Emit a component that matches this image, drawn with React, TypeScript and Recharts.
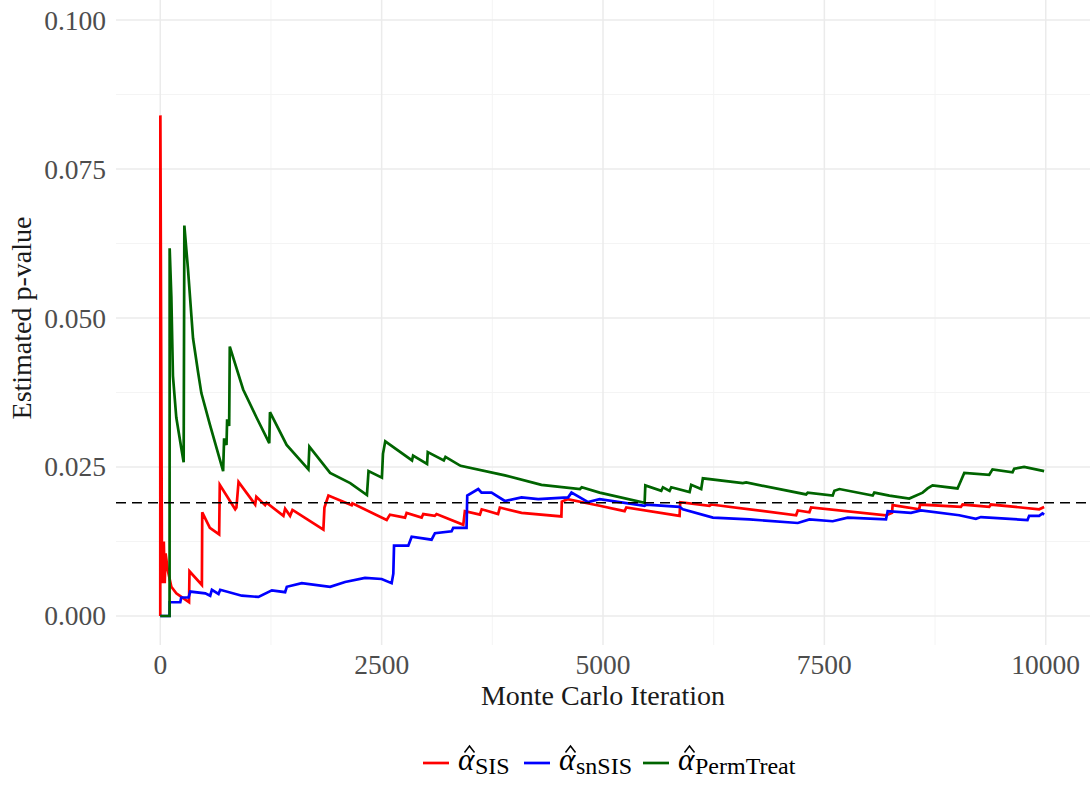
import { LineChart, Line, XAxis, YAxis, CartesianGrid, ReferenceLine } from "recharts";

// running p-value estimates (steps encoded as two points at ~same iteration)
const sisIter = [0, 1, 18, 30, 40, 50, 60, 87, 125, 181, 238, 325, 330, 470, 474, 560, 665, 672, 846, 860, 884, 1072, 1085, 1184, 1200, 1391, 1410, 1466, 1493, 1842, 1854, 1899, 2162, 2170, 2557, 2594, 2764, 2782, 2952, 2970, 3100, 3120, 3422, 3440, 3610, 3630, 3815, 3835, 4080, 4530, 4535, 4600, 4962, 5244, 5263, 5865, 5872, 6203, 6222, 7181, 7200, 7331, 7350, 8196, 8264, 8271, 8572, 8580, 9042, 9061, 9362, 9380, 9926, 9982];
const sisValue = [0, 0.084, 0.012, 0.0055, 0.0125, 0.0055, 0.0105, 0.0075, 0.0049, 0.0038, 0.0032, 0.0023, 0.0075, 0.0052, 0.0174, 0.0148, 0.0137, 0.022, 0.0179, 0.0182, 0.0225, 0.0187, 0.02, 0.0186, 0.019, 0.0168, 0.018, 0.0168, 0.0178, 0.0145, 0.0182, 0.0202, 0.0186, 0.0189, 0.0161, 0.017, 0.0165, 0.0173, 0.0165, 0.0171, 0.0168, 0.0171, 0.0153, 0.0176, 0.017, 0.0179, 0.0171, 0.0182, 0.0173, 0.0167, 0.0192, 0.0196, 0.0185, 0.0176, 0.0182, 0.0168, 0.0191, 0.0185, 0.0187, 0.0169, 0.0177, 0.0174, 0.0182, 0.0169, 0.0173, 0.0186, 0.0179, 0.0187, 0.0183, 0.0187, 0.0183, 0.0187, 0.0179, 0.0183];

const snIter = [0, 105, 106, 226, 237, 320, 338, 508, 564, 583, 658, 677, 921, 1109, 1260, 1410, 1429, 1598, 1918, 2087, 2312, 2500, 2613, 2632, 2640, 2801, 2839, 3064, 3102, 3290, 3309, 3459, 3467, 3591, 3628, 3741, 3892, 4080, 4268, 4606, 4644, 4832, 4962, 5470, 5489, 5865, 5902, 6241, 6654, 7200, 7331, 7594, 7764, 8196, 8215, 8478, 8591, 9023, 9211, 9268, 9794, 9813, 9926, 9963, 9982];
const snValue = [0, 0, 0.0023, 0.0023, 0.0031, 0.0031, 0.0041, 0.0038, 0.0034, 0.0044, 0.0037, 0.0044, 0.0034, 0.0032, 0.0043, 0.004, 0.0049, 0.0055, 0.0049, 0.0057, 0.0064, 0.0062, 0.0055, 0.0071, 0.0118, 0.0118, 0.0133, 0.0128, 0.0139, 0.0142, 0.0148, 0.0148, 0.0202, 0.0213, 0.0207, 0.0207, 0.0193, 0.0199, 0.0196, 0.0199, 0.0207, 0.0191, 0.0196, 0.0185, 0.0187, 0.0183, 0.0179, 0.0165, 0.0162, 0.0156, 0.0162, 0.0159, 0.0165, 0.0162, 0.0176, 0.0173, 0.0177, 0.0169, 0.0163, 0.0166, 0.0161, 0.0168, 0.0168, 0.0172, 0.017];

const permIter = [0, 105, 106, 125, 143, 181, 238, 264, 272, 313, 370, 427, 464, 559, 710, 721, 748, 755, 778, 785, 936, 1087, 1231, 1239, 1427, 1673, 1684, 1918, 2145, 2334, 2352, 2503, 2515, 2541, 2843, 2855, 3013, 3021, 3202, 3221, 3391, 3892, 4305, 4740, 4760, 4962, 5470, 5478, 5658, 5677, 5752, 5771, 5978, 5996, 6109, 6128, 6579, 6617, 7294, 7312, 7594, 7613, 7670, 8046, 8064, 8234, 8459, 8610, 8666, 8722, 9004, 9042, 9080, 9362, 9399, 9625, 9644, 9756, 9982];
const permValue = [0, 0, 0.0617, 0.0536, 0.0403, 0.0333, 0.0281, 0.0258, 0.0655, 0.0582, 0.0466, 0.0409, 0.0374, 0.0322, 0.0243, 0.0298, 0.0287, 0.033, 0.0319, 0.0452, 0.038, 0.0333, 0.029, 0.0342, 0.0287, 0.0246, 0.0284, 0.024, 0.0223, 0.0203, 0.0243, 0.0232, 0.0272, 0.0293, 0.0261, 0.0269, 0.0255, 0.0275, 0.0261, 0.0267, 0.0252, 0.0236, 0.022, 0.0213, 0.0216, 0.0207, 0.019, 0.0219, 0.021, 0.0216, 0.021, 0.0216, 0.0208, 0.022, 0.0213, 0.0231, 0.0223, 0.0224, 0.0204, 0.0207, 0.0202, 0.021, 0.0213, 0.0202, 0.0207, 0.0202, 0.0197, 0.0207, 0.0214, 0.0219, 0.0214, 0.0227, 0.024, 0.0237, 0.0246, 0.0241, 0.0247, 0.025, 0.0243];

const trueP = 0.019;
const xTicks = [0, 2500, 5000, 7500, 10000];
const xMinor = [1250, 3750, 6250, 8750];
const yTicks = [0, 0.025, 0.05, 0.075, 0.1];
const yMinor = [0.0125, 0.0375, 0.0625, 0.0875];

const sisData = sisIter.map((iter, i) => ({ iter, p: sisValue[i] }));
const snData = snIter.map((iter, i) => ({ iter, p: snValue[i] }));
const permData = permIter.map((iter, i) => ({ iter, p: permValue[i] }));

const serif = "'Liberation Serif', 'DejaVu Serif', serif";

const XTick = ({ x, y, payload }: any) => (
  <text x={x} y={y + 29} textAnchor="middle" fill="#4D4D4D" fontSize={27.5} fontFamily={serif}>
    {payload.value}
  </text>
);

const YTick = ({ x, y, payload }: any) => (
  <text x={x - 10} y={y + 9.5} textAnchor="end" fill="#4D4D4D" fontSize={27.5} fontFamily={serif}>
    {payload.value.toFixed(3)}
  </text>
);

const XTitle = () => (
  <text x={603} y={705} textAnchor="middle" fill="#1a1a1a" fontSize={28} fontFamily={serif}>
    Monte Carlo Iteration
  </text>
);

const YTitle = () => (
  <text x={31} y={318} transform="rotate(-90 31 318)" textAnchor="middle" fill="#1a1a1a" fontSize={28} fontFamily={serif}>
    Estimated p-value
  </text>
);

const legendItems = [
  { sub: "SIS", color: "#FF0000", x: 423 },
  { sub: "snSIS", color: "#0000FF", x: 524 },
  { sub: "PermTreat", color: "#006400", x: 643 },
];

export default function App() {
  return (
    <div style={{ position: "absolute", left: 0, top: 0, width: 1090, height: 785, background: "#fff" }}>
      <LineChart width={1090} height={785} margin={{ top: 0, right: 0, bottom: 70, left: 0 }}>
        <CartesianGrid stroke="#F4F4F4" strokeWidth={1} horizontalValues={yMinor} verticalValues={xMinor} />
        <CartesianGrid stroke="#EBEBEB" strokeWidth={1.5} horizontalValues={yTicks} verticalValues={xTicks} />
        <XAxis
          type="number"
          dataKey="iter"
          domain={[-500, 10500]}
          ticks={xTicks}
          allowDataOverflow
          axisLine={false}
          tickLine={false}
          tickSize={0}
          tickMargin={0}
          height={70}
          tick={<XTick />}
          label={<XTitle />}
        />
        <YAxis
          type="number"
          dataKey="p"
          domain={[-0.00487, 0.10336]}
          ticks={yTicks}
          allowDataOverflow
          axisLine={false}
          tickLine={false}
          tickSize={0}
          tickMargin={0}
          width={116}
          tick={<YTick />}
          label={<YTitle />}
        />
        <Line data={sisData} dataKey="p" type="linear" stroke="#FF0000" strokeWidth={2.7} dot={false} isAnimationActive={false} />
        <Line data={snData} dataKey="p" type="linear" stroke="#0000FF" strokeWidth={2.7} dot={false} isAnimationActive={false} />
        <Line data={permData} dataKey="p" type="linear" stroke="#006400" strokeWidth={2.7} dot={false} isAnimationActive={false} />
        <ReferenceLine y={trueP} stroke="#000" strokeWidth={1.6} strokeDasharray="10 6" />
      </LineChart>
      <svg width={1090} height={785} style={{ position: "absolute", left: 0, top: 0, pointerEvents: "none" }}>
        {legendItems.map((item) => (
          <g key={item.sub}>
            <line x1={item.x} x2={item.x + 26} y1={763} y2={763} stroke={item.color} strokeWidth={2.7} />
            {/* hat accent over the alpha */}
            <path
              d={`M${item.x + 41.5},752.5 L${item.x + 46.5},746 L${item.x + 51.5},752.5`}
              fill="none"
              stroke="#000"
              strokeWidth={1.5}
            />
            <text fontFamily={serif} fill="#000">
              <tspan x={item.x + 35} y={770} fontSize={31} fontStyle="italic">α</tspan>
              <tspan x={item.x + 52} y={774} fontSize={24}>{item.sub}</tspan>
            </text>
          </g>
        ))}
      </svg>
    </div>
  );
}
